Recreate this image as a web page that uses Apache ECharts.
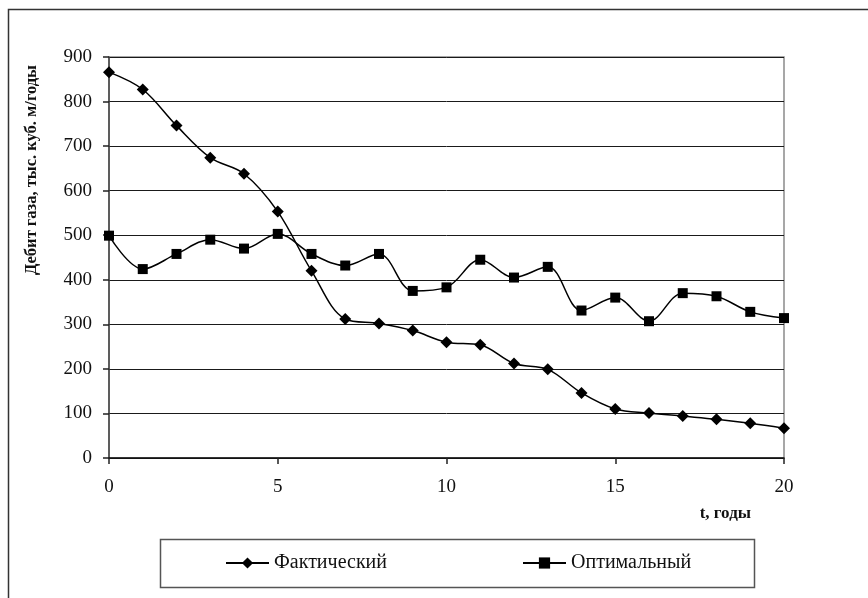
<!DOCTYPE html>
<html>
<head>
<meta charset="utf-8">
<style>
  html, body { margin: 0; padding: 0; background: #fff; }
  #chart { width: 868px; height: 598px; }
</style>
<script src="https://cdn.jsdelivr.net/npm/echarts@6/dist/echarts.min.js"></script>
</head>
<body>
<div id="chart"></div>
<script>
// Годы разработки
const years = [0, 1, 2, 3, 4, 5, 6, 7, 8, 9, 10, 11, 12, 13, 14, 15, 16, 17, 18, 19, 20];
// Дебит газа, тыс. куб. м/годы
const factual = [866, 827, 746, 674, 638, 553, 420, 312, 302, 286, 260, 254, 212, 199, 146, 110, 101, 94, 87, 78, 67];
const optimal = [499, 424, 458, 490, 470, 503, 458, 432, 458, 375, 383, 445, 405, 429, 331, 360, 307, 370, 363, 328, 314];
const seriesNames = ['Фактический', 'Оптимальный'];
const yAxisTitle = 'Дебит газа, тыс. куб. м/годы';
const xAxisTitle = 't, годы';

const FONT = '"Liberation Serif", "Times New Roman", serif';

const chart = echarts.init(document.getElementById('chart'), null, { renderer: 'canvas' });

const pairs = arr => years.map((t, i) => [t, arr[i]]);

const legendBase = {
  padding: 0, itemWidth: 43, itemHeight: 14, itemGap: 0,
  textStyle: { fontSize: 20, fontFamily: FONT, color: '#111' }
};

chart.setOption({
  animation: false,
  backgroundColor: '#fff',
  textStyle: { fontFamily: FONT },
  grid: {
    left: 109, right: 84, top: 57, bottom: 140,
    show: true, borderColor: '#8a8a8a', borderWidth: 1.5, backgroundColor: 'transparent'
  },
  xAxis: {
    type: 'value', min: 0, max: 20, interval: 5,
    axisLine: { lineStyle: { color: '#111', width: 1.5 } },
    axisTick: { show: true, inside: false, length: 6, lineStyle: { color: '#222', width: 1.5 } },
    axisLabel: { color: '#111', fontSize: 19, fontFamily: FONT, margin: 20 },
    splitLine: { show: false }
  },
  yAxis: {
    type: 'value', min: 0, max: 900, interval: 100,
    axisLine: { show: true, lineStyle: { color: '#444', width: 1.5 } },
    axisTick: { show: true, inside: false, length: 6, lineStyle: { color: '#222', width: 1.5 } },
    axisLabel: { color: '#111', fontSize: 19, fontFamily: FONT, margin: 17 },
    splitLine: { show: true, lineStyle: { color: '#1a1a1a', width: 1 } }
  },
  legend: [
    Object.assign({ data: [seriesNames[0]], left: 225, top: 553 }, legendBase),
    Object.assign({ data: [seriesNames[1]], left: 522, top: 553 }, legendBase)
  ],
  graphic: [
    {
      type: 'rect', left: 6, top: 7, silent: true,
      shape: { width: 880, height: 610 },
      style: { fill: 'none', stroke: '#333', lineWidth: 1.5 }
    },
    {
      type: 'rect', left: 158, top: 537, silent: true,
      shape: { width: 594, height: 48 },
      style: { fill: 'none', stroke: '#555', lineWidth: 1.5 }
    },
    {
      type: 'text', x: 32, y: 170, rotation: Math.PI / 2, silent: true,
      style: {
        text: yAxisTitle, font: 'bold 16.5px ' + FONT, fill: '#111',
        align: 'center', verticalAlign: 'middle'
      }
    },
    {
      type: 'text', x: 751, y: 514, silent: true,
      style: {
        text: xAxisTitle, font: 'bold 17px ' + FONT, fill: '#111',
        align: 'right', verticalAlign: 'middle'
      }
    }
  ],
  series: [
    {
      name: seriesNames[0], type: 'line', data: pairs(factual),
      smooth: 0.35, symbol: 'diamond', symbolSize: 12,
      itemStyle: { color: '#000' },
      lineStyle: { color: '#000', width: 1.5 }
    },
    {
      name: seriesNames[1], type: 'line', data: pairs(optimal),
      smooth: 0.35, symbol: 'rect', symbolSize: 10,
      itemStyle: { color: '#000' },
      lineStyle: { color: '#000', width: 1.5 }
    }
  ]
});
</script>
</body>
</html>
